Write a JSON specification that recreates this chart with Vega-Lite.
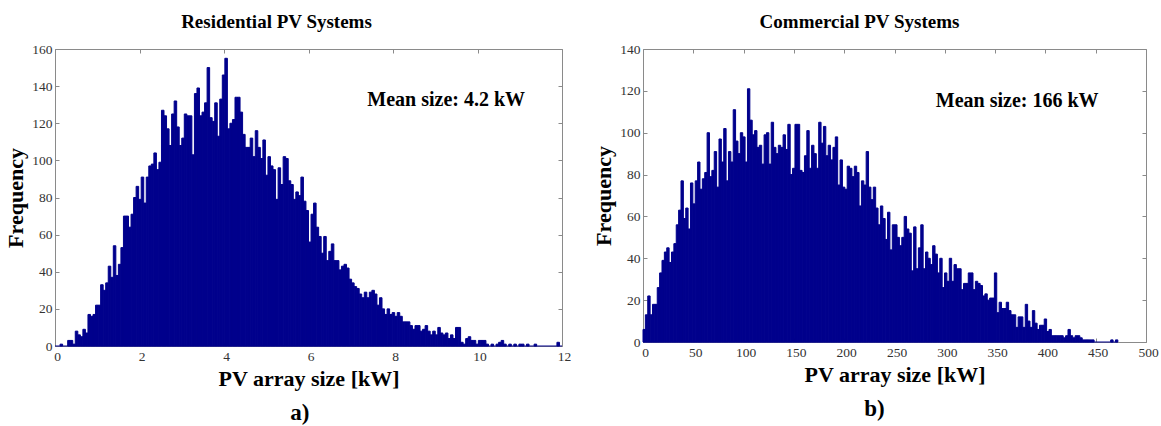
{
"$schema": "https://vega.github.io/schema/vega-lite/v6.json",
"background": "white",
"padding": {"left": 4, "top": 12, "right": 2, "bottom": 2},
"config": {
  "view": {"stroke": "#8a8a8a", "strokeWidth": 1},
  "font": "Liberation Serif",
  "title": {"font": "Liberation Serif", "fontSize": 18, "fontWeight": "bold", "color": "black"},
  "axis": {"domain": false, "grid": false, "tickColor": "#8a8a8a", "tickSize": -4, "labelFont": "Liberation Serif", "labelFontSize": 13.5, "labelColor": "#333", "labelPadding": 7, "labelFlush": false, "labelOverlap": false, "titleFont": "Liberation Serif", "titleFontSize": 22, "titleFontWeight": "bold", "titleColor": "black"}
},
"datasets": {
"res": [
{"a":0.12,"b":0.18,"n":1},{"a":0.3,"b":0.36,"n":3},{"a":0.36,"b":0.42,"n":3},{"a":0.42,"b":0.48,"n":1},{"a":0.48,"b":0.54,"n":8},{"a":0.54,"b":0.6,"n":6},
{"a":0.6,"b":0.66,"n":5},{"a":0.66,"b":0.72,"n":9},{"a":0.72,"b":0.78,"n":7},{"a":0.78,"b":0.84,"n":17},{"a":0.84,"b":0.9,"n":16},{"a":0.9,"b":0.96,"n":17},{"a":0.96,"b":1.02,"n":22},{"a":1.02,"b":1.08,"n":22},{"a":1.08,"b":1.14,"n":33},{"a":1.14,"b":1.2,"n":30},
{"a":1.2,"b":1.26,"n":34},{"a":1.26,"b":1.32,"n":43},{"a":1.32,"b":1.38,"n":37},{"a":1.38,"b":1.44,"n":54},{"a":1.44,"b":1.5,"n":38},{"a":1.5,"b":1.56,"n":44},{"a":1.56,"b":1.62,"n":53},{"a":1.62,"b":1.68,"n":70},{"a":1.68,"b":1.74,"n":70},{"a":1.74,"b":1.8,"n":64},
{"a":1.8,"b":1.86,"n":71},{"a":1.86,"b":1.92,"n":80},{"a":1.92,"b":1.98,"n":86},{"a":1.98,"b":2.04,"n":79},{"a":2.04,"b":2.1,"n":91},{"a":2.1,"b":2.16,"n":77},{"a":2.16,"b":2.22,"n":91},{"a":2.22,"b":2.28,"n":97},{"a":2.28,"b":2.34,"n":98},{"a":2.34,"b":2.4,"n":104},
{"a":2.4,"b":2.46,"n":95},{"a":2.46,"b":2.52,"n":99},{"a":2.52,"b":2.58,"n":127},{"a":2.58,"b":2.64,"n":124},{"a":2.64,"b":2.7,"n":117},{"a":2.7,"b":2.76,"n":108},{"a":2.76,"b":2.82,"n":125},{"a":2.82,"b":2.88,"n":132},{"a":2.88,"b":2.94,"n":118},{"a":2.94,"b":3,"n":108},
{"a":3,"b":3.06,"n":112},{"a":3.06,"b":3.12,"n":125},{"a":3.12,"b":3.18,"n":124},{"a":3.18,"b":3.24,"n":124},{"a":3.24,"b":3.3,"n":103},{"a":3.3,"b":3.36,"n":136},{"a":3.36,"b":3.42,"n":139},{"a":3.42,"b":3.48,"n":124},{"a":3.48,"b":3.54,"n":126},{"a":3.54,"b":3.6,"n":131},
{"a":3.6,"b":3.66,"n":150},{"a":3.66,"b":3.72,"n":123},{"a":3.72,"b":3.78,"n":121},{"a":3.78,"b":3.84,"n":131},{"a":3.84,"b":3.9,"n":113},{"a":3.9,"b":3.96,"n":133},{"a":3.96,"b":4.02,"n":146},{"a":4.02,"b":4.08,"n":155},{"a":4.08,"b":4.14,"n":117},{"a":4.14,"b":4.2,"n":120},
{"a":4.2,"b":4.26,"n":122},{"a":4.26,"b":4.32,"n":134},{"a":4.32,"b":4.38,"n":134},{"a":4.38,"b":4.44,"n":126},{"a":4.44,"b":4.5,"n":114},{"a":4.5,"b":4.56,"n":107},{"a":4.56,"b":4.62,"n":107},{"a":4.62,"b":4.68,"n":112},{"a":4.68,"b":4.74,"n":102},{"a":4.74,"b":4.8,"n":116},
{"a":4.8,"b":4.86,"n":107},{"a":4.86,"b":4.92,"n":101},{"a":4.92,"b":4.98,"n":111},{"a":4.98,"b":5.04,"n":92},{"a":5.04,"b":5.1,"n":102},{"a":5.1,"b":5.16,"n":97},{"a":5.16,"b":5.22,"n":95},{"a":5.22,"b":5.28,"n":79},{"a":5.28,"b":5.34,"n":96},{"a":5.34,"b":5.4,"n":87},
{"a":5.4,"b":5.46,"n":102},{"a":5.46,"b":5.52,"n":101},{"a":5.52,"b":5.58,"n":89},{"a":5.58,"b":5.64,"n":87},{"a":5.64,"b":5.7,"n":79},{"a":5.7,"b":5.76,"n":83},{"a":5.76,"b":5.82,"n":81},{"a":5.82,"b":5.88,"n":91},{"a":5.88,"b":5.94,"n":78},{"a":5.94,"b":6,"n":73},
{"a":6,"b":6.06,"n":56},{"a":6.06,"b":6.12,"n":71},{"a":6.12,"b":6.18,"n":77},{"a":6.18,"b":6.24,"n":64},{"a":6.24,"b":6.3,"n":59},{"a":6.3,"b":6.36,"n":50},{"a":6.36,"b":6.42,"n":59},{"a":6.42,"b":6.48,"n":46},{"a":6.48,"b":6.54,"n":51},{"a":6.54,"b":6.6,"n":55},
{"a":6.6,"b":6.66,"n":46},{"a":6.66,"b":6.72,"n":46},{"a":6.72,"b":6.78,"n":41},{"a":6.78,"b":6.84,"n":43},{"a":6.84,"b":6.9,"n":44},{"a":6.9,"b":6.96,"n":42},{"a":6.96,"b":7.02,"n":36},{"a":7.02,"b":7.08,"n":34},{"a":7.08,"b":7.14,"n":32},{"a":7.14,"b":7.2,"n":31},
{"a":7.2,"b":7.26,"n":28},{"a":7.26,"b":7.32,"n":26},{"a":7.32,"b":7.38,"n":29},{"a":7.38,"b":7.44,"n":26},{"a":7.44,"b":7.5,"n":29},{"a":7.5,"b":7.56,"n":30},{"a":7.56,"b":7.62,"n":28},{"a":7.62,"b":7.68,"n":22},{"a":7.68,"b":7.74,"n":26},{"a":7.74,"b":7.8,"n":20},
{"a":7.8,"b":7.86,"n":17},{"a":7.86,"b":7.92,"n":20},{"a":7.92,"b":7.98,"n":17},{"a":7.98,"b":8.04,"n":18},{"a":8.04,"b":8.1,"n":16},{"a":8.1,"b":8.16,"n":18},{"a":8.16,"b":8.22,"n":16},{"a":8.22,"b":8.28,"n":13},{"a":8.28,"b":8.34,"n":13},{"a":8.34,"b":8.4,"n":13},
{"a":8.4,"b":8.46,"n":11},{"a":8.46,"b":8.52,"n":9},{"a":8.52,"b":8.58,"n":11},{"a":8.58,"b":8.64,"n":11},{"a":8.64,"b":8.7,"n":8},{"a":8.7,"b":8.76,"n":9},{"a":8.76,"b":8.82,"n":11},{"a":8.82,"b":8.88,"n":8},{"a":8.88,"b":8.94,"n":6},{"a":8.94,"b":9,"n":8},
{"a":9,"b":9.06,"n":6},{"a":9.06,"b":9.12,"n":10},{"a":9.12,"b":9.18,"n":7},{"a":9.18,"b":9.24,"n":6},{"a":9.24,"b":9.3,"n":7},{"a":9.3,"b":9.36,"n":4},{"a":9.36,"b":9.42,"n":6},{"a":9.42,"b":9.48,"n":4},{"a":9.48,"b":9.54,"n":10},{"a":9.54,"b":9.6,"n":10},
{"a":9.6,"b":9.66,"n":2},{"a":9.66,"b":9.72,"n":1},{"a":9.72,"b":9.78,"n":4},{"a":9.78,"b":9.84,"n":5},{"a":9.84,"b":9.9,"n":3},{"a":9.9,"b":9.96,"n":3},{"a":9.96,"b":10.02,"n":1},{"a":10.02,"b":10.08,"n":3},{"a":10.08,"b":10.14,"n":3},{"a":10.14,"b":10.2,"n":3},
{"a":10.2,"b":10.26,"n":1},{"a":10.32,"b":10.38,"n":1},{"a":10.44,"b":10.5,"n":1},{"a":10.5,"b":10.56,"n":2},{"a":10.56,"b":10.62,"n":3},{"a":10.62,"b":10.68,"n":1},{"a":10.74,"b":10.8,"n":1},
{"a":10.86,"b":10.92,"n":1},{"a":10.98,"b":11.04,"n":1},{"a":11.04,"b":11.1,"n":1},{"a":11.16,"b":11.22,"n":1},{"a":11.34,"b":11.4,"n":1},{"a":11.88,"b":11.94,"n":2}
],
"com": [
{"a":0,"b":2.36,"n":6},{"a":2.36,"b":4.72,"n":13},{"a":4.72,"b":7.08,"n":22},{"a":7.08,"b":9.44,"n":13},{"a":9.44,"b":11.8,"n":18},{"a":11.8,"b":14.16,"n":18},{"a":14.16,"b":16.52,"n":26},{"a":16.52,"b":18.88,"n":33},{"a":18.88,"b":21.24,"n":39},{"a":21.24,"b":23.6,"n":43},
{"a":23.6,"b":25.96,"n":45},{"a":25.96,"b":28.32,"n":38},{"a":28.32,"b":30.68,"n":43},{"a":30.68,"b":33.04,"n":47},{"a":33.04,"b":35.4,"n":56},{"a":35.4,"b":37.76,"n":63},{"a":37.76,"b":40.12,"n":77},{"a":40.12,"b":42.48,"n":59},{"a":42.48,"b":44.84,"n":64},{"a":44.84,"b":47.2,"n":54},
{"a":47.2,"b":49.56,"n":76},{"a":49.56,"b":51.92,"n":66},{"a":51.92,"b":54.28,"n":77},{"a":54.28,"b":56.64,"n":86},{"a":56.64,"b":59,"n":73},{"a":59,"b":61.36,"n":78},{"a":61.36,"b":63.72,"n":81},{"a":63.72,"b":66.08,"n":100},{"a":66.08,"b":68.44,"n":79},{"a":68.44,"b":70.8,"n":82},
{"a":70.8,"b":73.16,"n":91},{"a":73.16,"b":75.52,"n":74},{"a":75.52,"b":77.88,"n":97},{"a":77.88,"b":80.24,"n":86},{"a":80.24,"b":82.6,"n":102},{"a":82.6,"b":84.96,"n":77},{"a":84.96,"b":87.32,"n":91},{"a":87.32,"b":89.68,"n":86},{"a":89.68,"b":92.04,"n":111},{"a":92.04,"b":94.4,"n":96},
{"a":94.4,"b":96.76,"n":90},{"a":96.76,"b":99.12,"n":100},{"a":99.12,"b":101.48,"n":98},{"a":101.48,"b":103.84,"n":86},{"a":103.84,"b":106.2,"n":121},{"a":106.2,"b":108.56,"n":106},{"a":108.56,"b":110.92,"n":99},{"a":110.92,"b":113.28,"n":101},{"a":113.28,"b":115.64,"n":93},{"a":115.64,"b":118,"n":94},
{"a":118,"b":120.36,"n":85},{"a":120.36,"b":122.72,"n":99},{"a":122.72,"b":125.08,"n":100},{"a":125.08,"b":127.44,"n":85},{"a":127.44,"b":129.8,"n":105},{"a":129.8,"b":132.16,"n":93},{"a":132.16,"b":134.52,"n":90},{"a":134.52,"b":136.88,"n":94},{"a":136.88,"b":139.24,"n":93},{"a":139.24,"b":141.6,"n":99},
{"a":141.6,"b":143.96,"n":92},{"a":143.96,"b":146.32,"n":104},{"a":146.32,"b":148.68,"n":80},{"a":148.68,"b":151.04,"n":83},{"a":151.04,"b":153.4,"n":104},{"a":153.4,"b":155.76,"n":104},{"a":155.76,"b":158.12,"n":82},{"a":158.12,"b":160.48,"n":81},{"a":160.48,"b":162.84,"n":89},{"a":162.84,"b":165.2,"n":101},
{"a":165.2,"b":167.56,"n":83},{"a":167.56,"b":169.92,"n":94},{"a":169.92,"b":172.28,"n":90},{"a":172.28,"b":174.64,"n":83},{"a":174.64,"b":177,"n":105},{"a":177,"b":179.36,"n":95},{"a":179.36,"b":181.72,"n":103},{"a":181.72,"b":184.08,"n":89},{"a":184.08,"b":186.44,"n":94},{"a":186.44,"b":188.8,"n":87},
{"a":188.8,"b":191.16,"n":93},{"a":191.16,"b":193.52,"n":98},{"a":193.52,"b":195.88,"n":75},{"a":195.88,"b":198.24,"n":87},{"a":198.24,"b":200.6,"n":74},{"a":200.6,"b":202.96,"n":73},{"a":202.96,"b":205.32,"n":84},{"a":205.32,"b":207.68,"n":83},{"a":207.68,"b":210.04,"n":79},{"a":210.04,"b":212.4,"n":84},
{"a":212.4,"b":214.76,"n":81},{"a":214.76,"b":217.12,"n":65},{"a":217.12,"b":219.48,"n":77},{"a":219.48,"b":221.84,"n":75},{"a":221.84,"b":224.2,"n":91},{"a":224.2,"b":226.56,"n":74},{"a":226.56,"b":228.92,"n":68},{"a":228.92,"b":231.28,"n":74},{"a":231.28,"b":233.64,"n":64},{"a":233.64,"b":236,"n":56},
{"a":236,"b":238.36,"n":65},{"a":238.36,"b":240.72,"n":59},{"a":240.72,"b":243.08,"n":49},{"a":243.08,"b":245.44,"n":62},{"a":245.44,"b":247.8,"n":44},{"a":247.8,"b":250.16,"n":56},{"a":250.16,"b":252.52,"n":56},{"a":252.52,"b":254.88,"n":50},{"a":254.88,"b":257.24,"n":46},{"a":257.24,"b":259.6,"n":50},
{"a":259.6,"b":261.96,"n":60},{"a":261.96,"b":264.32,"n":54},{"a":264.32,"b":266.68,"n":52},{"a":266.68,"b":269.04,"n":34},{"a":269.04,"b":271.4,"n":55},{"a":271.4,"b":273.76,"n":35},{"a":273.76,"b":276.12,"n":45},{"a":276.12,"b":278.48,"n":56},{"a":278.48,"b":280.84,"n":35},{"a":280.84,"b":283.2,"n":43},
{"a":283.2,"b":285.56,"n":40},{"a":285.56,"b":287.92,"n":37},{"a":287.92,"b":290.28,"n":46},{"a":290.28,"b":292.64,"n":42},{"a":292.64,"b":295,"n":33},{"a":295,"b":297.36,"n":40},{"a":297.36,"b":299.72,"n":26},{"a":299.72,"b":302.08,"n":33},{"a":302.08,"b":304.44,"n":29},{"a":304.44,"b":306.8,"n":40},
{"a":306.8,"b":309.16,"n":29},{"a":309.16,"b":311.52,"n":37},{"a":311.52,"b":313.88,"n":35},{"a":313.88,"b":316.24,"n":35},{"a":316.24,"b":318.6,"n":25},{"a":318.6,"b":320.96,"n":28},{"a":320.96,"b":323.32,"n":28},{"a":323.32,"b":325.68,"n":33},{"a":325.68,"b":328.04,"n":33},{"a":328.04,"b":330.4,"n":25},
{"a":330.4,"b":332.76,"n":29},{"a":332.76,"b":335.12,"n":28},{"a":335.12,"b":337.48,"n":27},{"a":337.48,"b":339.84,"n":22},{"a":339.84,"b":342.2,"n":23},{"a":342.2,"b":344.56,"n":20},{"a":344.56,"b":346.92,"n":21},{"a":346.92,"b":349.28,"n":21},{"a":349.28,"b":351.64,"n":33},{"a":351.64,"b":354,"n":14},
{"a":354,"b":356.36,"n":19},{"a":356.36,"b":358.72,"n":16},{"a":358.72,"b":361.08,"n":16},{"a":361.08,"b":363.44,"n":19},{"a":363.44,"b":365.8,"n":15},{"a":365.8,"b":368.16,"n":13},{"a":368.16,"b":370.52,"n":13},{"a":370.52,"b":372.88,"n":7},{"a":372.88,"b":375.24,"n":12},{"a":375.24,"b":377.6,"n":12},
{"a":377.6,"b":379.96,"n":7},{"a":379.96,"b":382.32,"n":18},{"a":382.32,"b":384.68,"n":10},{"a":384.68,"b":387.04,"n":7},{"a":387.04,"b":389.4,"n":15},{"a":389.4,"b":391.76,"n":9},{"a":391.76,"b":394.12,"n":6},{"a":394.12,"b":396.48,"n":8},{"a":396.48,"b":398.84,"n":8},{"a":398.84,"b":401.2,"n":11},
{"a":401.2,"b":403.56,"n":5},{"a":403.56,"b":405.92,"n":6},{"a":405.92,"b":408.28,"n":3},{"a":408.28,"b":410.64,"n":3},{"a":410.64,"b":413,"n":3},{"a":413,"b":415.36,"n":3},{"a":415.36,"b":417.72,"n":3},{"a":417.72,"b":420.08,"n":2},{"a":420.08,"b":422.44,"n":3},{"a":422.44,"b":424.8,"n":6},
{"a":424.8,"b":427.16,"n":3},{"a":427.16,"b":429.52,"n":2},{"a":429.52,"b":431.88,"n":3},{"a":431.88,"b":434.24,"n":3},{"a":434.24,"b":436.6,"n":2},{"a":436.6,"b":438.96,"n":1},{"a":438.96,"b":441.32,"n":1},{"a":441.32,"b":443.68,"n":1},{"a":443.68,"b":446.04,"n":1},{"a":446.04,"b":448.4,"n":1},
{"a":464.92,"b":467.28,"n":1},{"a":469.64,"b":472,"n":1}
]
},
"spacing": 20,
"hconcat": [
 {
  "title": {"text": "a)", "orient": "bottom", "anchor": "middle", "fontSize": 23, "offset": 12, "dx": 12},
  "vconcat": [
   {
    "title": {"text": "Residential PV Systems", "anchor": "middle", "dx": -32, "offset": 10, "fontSize": 19},
    "width": 507, "height": 297,
    "resolve": {"axis": {"x": "independent", "y": "independent"}},
    "layer": [
     {
      "data": {"name": "res"},
      "mark": {"type": "bar", "color": "#00008C", "stroke": "#00008C", "strokeWidth": 1},
      "encoding": {
       "x": {"field": "a", "type": "quantitative", "scale": {"domain": [0, 12], "nice": false, "zero": false}, "axis": {"orient": "bottom", "values": [0,2,4,6,8,10,12], "title": "PV array size [kW]", "titlePadding": 6, "labelOffset": 2}},
       "x2": {"field": "b"},
       "y": {"field": "n", "type": "quantitative", "scale": {"domain": [0, 160], "nice": false}, "axis": {"orient": "left", "values": [0,20,40,60,80,100,120,140,160], "title": "Frequency", "titlePadding": 4}},
       "y2": {"datum": 0}
      }
     },
     {
      "data": {"values": [{}]},
      "mark": {"type": "text", "text": "Mean size: 4.2 kW", "fontSize": 20, "fontWeight": "bold", "font": "Liberation Serif", "align": "center", "baseline": "middle", "color": "black"},
      "encoding": {
       "x": {"datum": 9.26, "type": "quantitative", "scale": {"domain": [0, 12], "nice": false, "zero": false}, "axis": {"orient": "top", "values": [0,2,4,6,8,10,12], "labels": false, "title": null}},
       "y": {"datum": 132.5, "type": "quantitative", "scale": {"domain": [0, 160], "nice": false}, "axis": {"orient": "right", "values": [0,20,40,60,80,100,120,140,160], "labels": false, "title": null}}
      }
     },
     {
      "data": {"values": [{}]},
      "mark": {"type": "rule", "color": "#00008C", "strokeWidth": 1},
      "encoding": {
       "x": {"datum": 0, "type": "quantitative", "axis": null},
       "x2": {"datum": 12},
       "y": {"datum": 0, "type": "quantitative", "axis": null}
      }
     }
    ]
   }
  ]
 },
 {
  "title": {"text": "b)", "orient": "bottom", "anchor": "middle", "fontSize": 23, "offset": 12, "dx": -1},
  "vconcat": [
   {
    "title": {"text": "Commercial PV Systems", "anchor": "middle", "dx": -35, "offset": 10, "fontSize": 19},
    "width": 503, "height": 293,
    "resolve": {"axis": {"x": "independent", "y": "independent"}},
    "layer": [
     {
      "data": {"name": "com"},
      "mark": {"type": "bar", "color": "#00008C", "stroke": "#00008C", "strokeWidth": 1},
      "encoding": {
       "x": {"field": "a", "type": "quantitative", "scale": {"domain": [0, 500], "nice": false, "zero": false}, "axis": {"orient": "bottom", "values": [0,50,100,150,200,250,300,350,400,450,500], "title": "PV array size [kW]", "titlePadding": 6, "labelOffset": 2}},
       "x2": {"field": "b"},
       "y": {"field": "n", "type": "quantitative", "scale": {"domain": [0, 140], "nice": false}, "axis": {"orient": "left", "values": [0,20,40,60,80,100,120,140], "title": "Frequency", "titlePadding": 4}},
       "y2": {"datum": 0}
      }
     },
     {
      "data": {"values": [{}]},
      "mark": {"type": "text", "text": "Mean size: 166 kW", "fontSize": 20, "fontWeight": "bold", "font": "Liberation Serif", "align": "center", "baseline": "middle", "color": "black"},
      "encoding": {
       "x": {"datum": 372, "type": "quantitative", "scale": {"domain": [0, 500], "nice": false, "zero": false}, "axis": {"orient": "top", "values": [0,50,100,150,200,250,300,350,400,450,500], "labels": false, "title": null}},
       "y": {"datum": 115, "type": "quantitative", "scale": {"domain": [0, 140], "nice": false}, "axis": {"orient": "right", "values": [0,20,40,60,80,100,120,140], "labels": false, "title": null}}
      }
     },
     {
      "data": {"values": [{}]},
      "mark": {"type": "rule", "color": "#00008C", "strokeWidth": 1},
      "encoding": {
       "x": {"datum": 0, "type": "quantitative", "axis": null},
       "x2": {"datum": 472},
       "y": {"datum": 0, "type": "quantitative", "axis": null}
      }
     }
    ]
   }
  ]
 }
]
}
